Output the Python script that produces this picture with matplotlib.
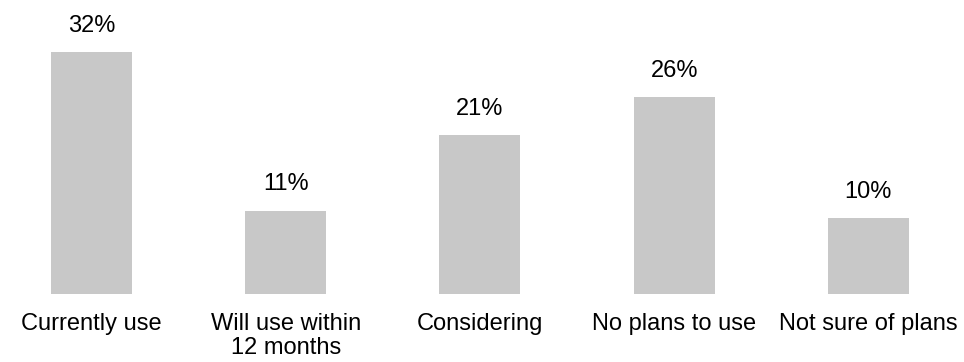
import numpy as np
import matplotlib
matplotlib.use("Agg")
import matplotlib.pyplot as plt

categories = ["Currently use", "Will use within\n12 months", "Considering",
              "No plans to use", "Not sure of plans"]
shares = [32, 11, 21, 26, 10]
labels = [f"{v}%" for v in shares]

plt.rcParams["font.family"] = ["Liberation Sans", "DejaVu Sans"]

fig = plt.figure(figsize=(9.64, 3.62), dpi=100)
ax = fig.add_axes([0, 0.1887, 1, 0.8113])

x = np.arange(len(categories))
bars = ax.bar(x, shares, width=0.417, color="#C8C8C8")
ax.bar_label(bars, labels=labels, padding=11, fontsize=17, color="black")

ax.set_xlim(-0.471, 4.492)
ax.set_ylim(0, 38.9)
ax.set_xticks(x)
ax.set_xticklabels(categories, fontsize=17, linespacing=1.12)
ax.tick_params(axis="x", length=0, pad=14)
ax.set_yticks([])
for s in ax.spines.values():
    s.set_visible(False)

plt.savefig("out.png", dpi=100)
plt.close()
